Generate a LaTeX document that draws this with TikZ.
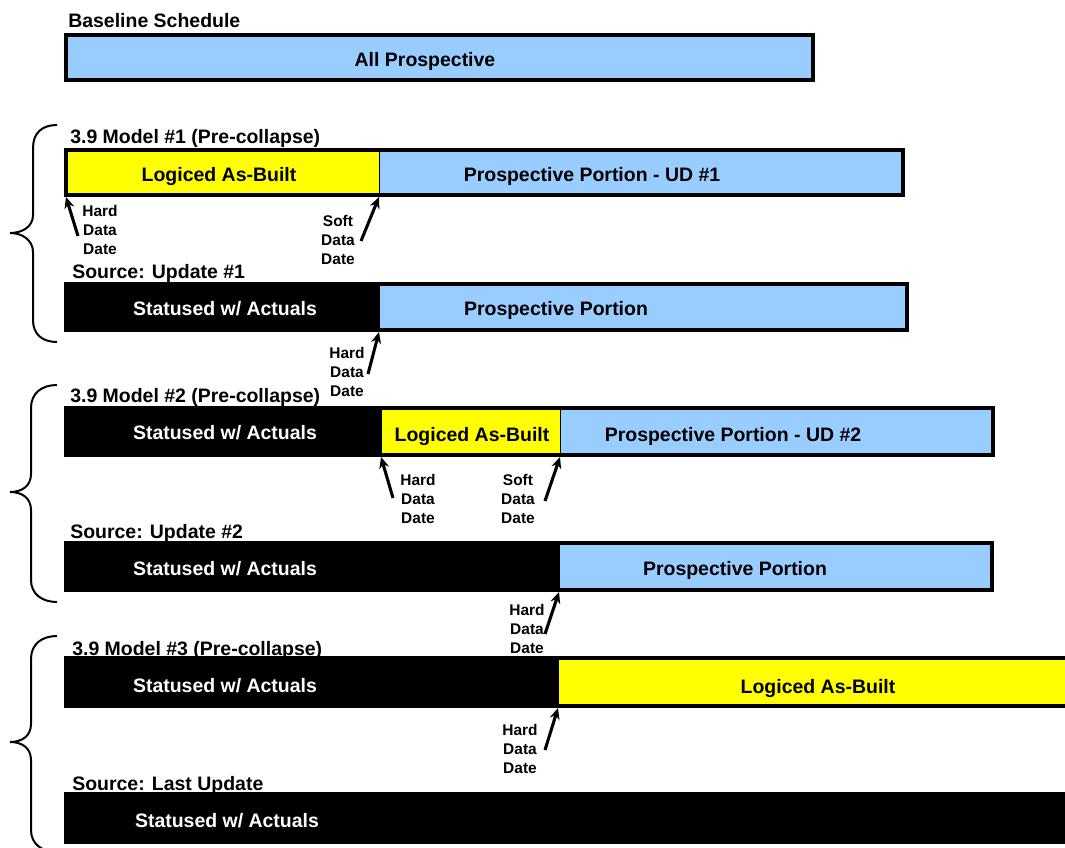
\documentclass[tikz,border=0pt]{standalone}
\usepackage{fontspec}
\setmainfont{Liberation Sans}
\usetikzlibrary{arrows.meta}
\definecolor{pblue}{HTML}{99CCFF}
\definecolor{pyellow}{HTML}{FFFF00}
\newcommand\segbox[6]{%
  \node[segment, fill=#6, minimum width={(#4-#2)*0.75pt}, minimum height={(#5-#3)*0.75pt}] (#1) at (#2,#3) {};}
\tikzset{
  segment/.style={draw=black, line width=0.75pt, anchor=north west, inner sep=0pt, outer sep=0pt},
  frame/.style={draw=black, line width=2.4pt},
  lbl/.style={font=\bfseries\fontsize{14.6}{17}\selectfont, inner sep=0pt, anchor=base},
  wlbl/.style={lbl, text=white},
  ttl/.style={font=\bfseries\fontsize{14.6}{17}\selectfont, inner sep=0pt, anchor=base west},
  small/.style={font=\bfseries\fontsize{11.6}{14.6}\selectfont, align=center, inner sep=0pt},
  arr/.style={line width=2.3pt, -{Stealth[length=8.5pt,width=7.5pt]}},
  brc/.style={line width=1.5pt}
}
\begin{document}
\begin{tikzpicture}[x=0.75pt,y=-0.75pt]
\useasboundingbox (0,0) rectangle (1065,848);
\clip (0,0) rectangle (1065,848);
\fill[white] (0,0) rectangle (1065,848);

% Baseline
\node[ttl] (t0) at (68,28) {Baseline Schedule};
\segbox{b0}{66}{35}{813}{80}{pblue}
\draw[frame] (b0.north west) rectangle (b0.south east);
\node[lbl] (lb0) at (425,67) {All Prospective};

% Model 1
\draw[brc] (57,125) .. controls (42,125) and (33,133) .. (33,148) -- (33,215)
  .. controls (33,227) and (22,233) .. (10,233) .. controls (22,233) and (33,240) .. (33,252)
  -- (33,320) .. controls (33,334) and (42,342) .. (57,342);
\node[ttl] (t1) at (70,144) {3.9 Model \#1 (Pre-collapse)};
\segbox{r1a}{66}{150}{379}{195}{pyellow}
\segbox{r1b}{379}{150}{903}{195}{pblue}
\draw[frame] (r1a.north west) rectangle (r1b.south east);
\node[lbl] (l1a) at (219,182) {Logiced As-Built};
\node[lbl] (l1b) at (592,182) {Prospective Portion - UD \#1};
\node[small] (h1) at (100,230) {Hard\\Data\\Date};
\node[small] (s1) at (338,240) {Soft\\Data\\Date};
\coordinate (h1t) at (78,236);
\coordinate (s1t) at (361,241);
\draw[arr] (h1t) -- ([yshift=-1.5pt]r1a.south west);
\draw[arr] (s1t) -- ([yshift=-1.5pt]r1a.south east);

% Source 1
\node[ttl] (t2) at (72,279) {Source: Update \#1};
\segbox{r2a}{66}{284}{379}{330}{black}
\segbox{r2b}{379}{284}{907}{330}{pblue}
\draw[frame] (r2a.north west) rectangle (r2b.south east);
\node[wlbl] (l2a) at (225,316) {Statused w/ Actuals};
\node[lbl] (l2b) at (556,316) {Prospective Portion};
\node[small] (h2) at (347,372) {Hard\\Data\\Date};
\coordinate (h2t) at (368,374);
\draw[arr] (h2t) -- ([yshift=-1.5pt]r2a.south east);

% Model 2
\draw[brc] (57,385) .. controls (42,385) and (31,393) .. (31,408) -- (31,474)
  .. controls (31,486) and (22,492) .. (10,492) .. controls (22,492) and (31,498) .. (31,510)
  -- (31,580) .. controls (31,594) and (42,602) .. (57,602);
\node[ttl] (t3) at (70,403) {3.9 Model \#2 (Pre-collapse)};
\segbox{r3a}{66}{408}{381}{455}{black}
\segbox{r3b}{381}{408}{560}{455}{pyellow}
\segbox{r3c}{560}{408}{993}{455}{pblue}
\draw[frame] (r3a.north west) rectangle (r3c.south east);
\node[wlbl] (l3a) at (225,440) {Statused w/ Actuals};
\node[lbl] (l3b) at (472,442) {Logiced As-Built};
\node[lbl] (l3c) at (733,442) {Prospective Portion - UD \#2};
\node[small] (h3) at (418,499) {Hard\\Data\\Date};
\node[small] (s3) at (518,499) {Soft\\Data\\Date};
\coordinate (h3t) at (393,498);
\coordinate (s3t) at (545,501);
\draw[arr] (h3t) -- ([yshift=-1.5pt]r3a.south east);
\draw[arr] (s3t) -- ([yshift=-1.5pt]r3b.south east);

% Source 2
\node[ttl] (t4) at (70,539) {Source: Update \#2};
\segbox{r4a}{66}{543}{559}{590}{black}
\segbox{r4b}{559}{543}{992}{590}{pblue}
\draw[frame] (r4a.north west) rectangle (r4b.south east);
\node[wlbl] (l4a) at (225,576) {Statused w/ Actuals};
\node[lbl] (l4b) at (735,576) {Prospective Portion};
\node[small] (h4) at (527,629) {Hard\\Data\\Date};
\coordinate (h4t) at (545,634);
\draw[arr] (h4t) -- ([yshift=-1.5pt]r4a.south east);

% Model 3
\draw[brc] (57,636) .. controls (42,636) and (31,644) .. (31,659) -- (31,724)
  .. controls (31,736) and (22,742) .. (10,742) .. controls (22,742) and (31,748) .. (31,760)
  -- (31,830) .. controls (31,844) and (42,852) .. (57,852);
\node[ttl] (t5) at (72,656) {3.9 Model \#3 (Pre-collapse)};
\segbox{r5a}{66}{658}{558}{706}{black}
\segbox{r5b}{558}{658}{1090}{706}{pyellow}
\draw[frame] (r5a.north west) rectangle (r5b.south east);
\node[wlbl] (l5a) at (225,692) {Statused w/ Actuals};
\node[lbl] (l5b) at (818,693) {Logiced As-Built};
\node[small] (h5) at (520,749) {Hard\\Data\\Date};
\coordinate (h5t) at (545,750);
\draw[arr] (h5t) -- ([yshift=-1.5pt]r5a.south east);

% Last update
\node[ttl] (t6) at (72,790) {Source: Last Update};
\segbox{r6a}{66}{794}{1090}{842}{black}
\draw[frame] (r6a.north west) rectangle (r6a.south east);
\node[wlbl] (l6a) at (227,827) {Statused w/ Actuals};
\end{tikzpicture}
\end{document}
